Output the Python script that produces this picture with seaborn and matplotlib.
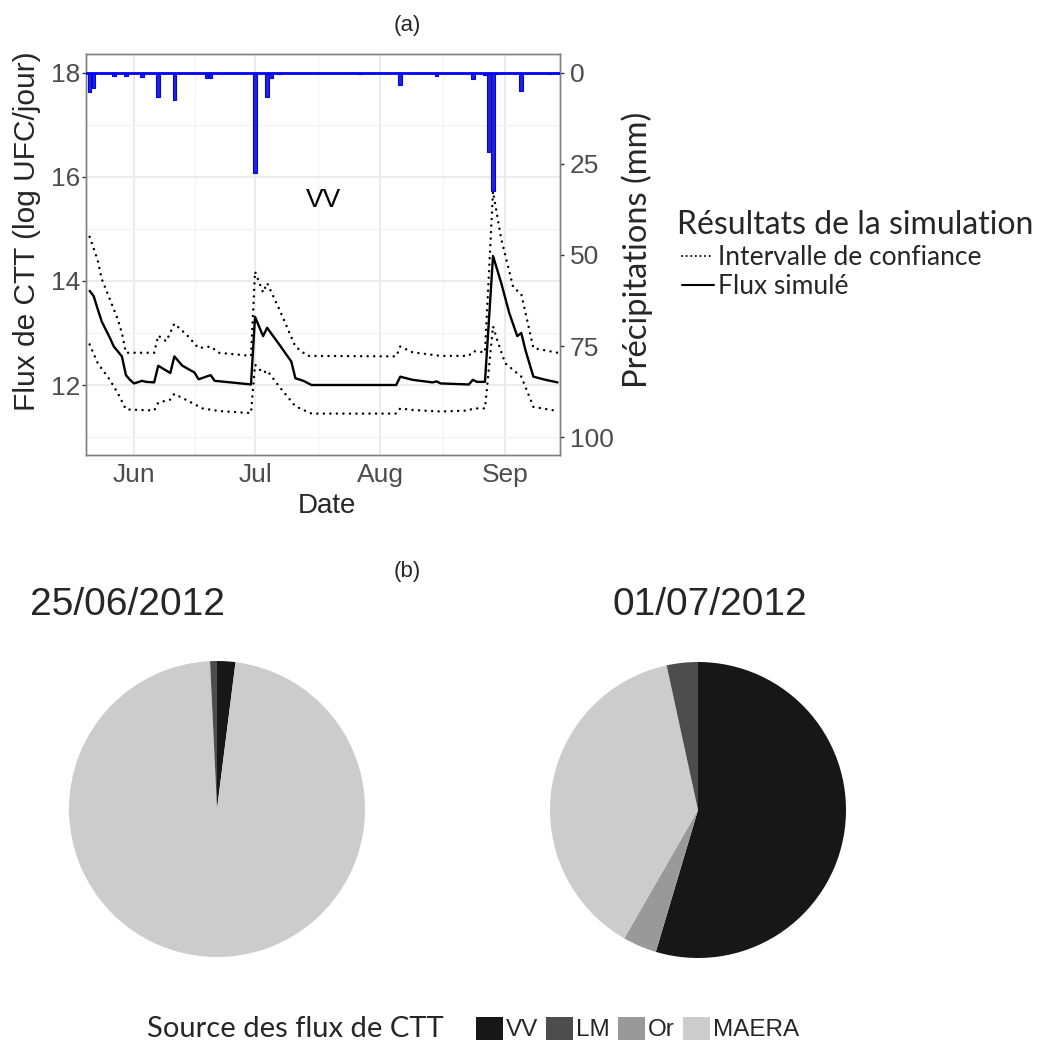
import numpy as np
import pandas as pd
import matplotlib
matplotlib.use("Agg")
import matplotlib.pyplot as plt
import matplotlib.dates as mdates
from matplotlib.lines import Line2D
from matplotlib.patches import Patch
from matplotlib.ticker import FixedLocator
import seaborn as sns

# ---------------- data ----------------
flux_dates = ["2012-05-21", "2012-05-22", "2012-05-23", "2012-05-24", "2012-05-26", "2012-05-27",
              "2012-05-29", "2012-05-30", "2012-05-31", "2012-06-01", "2012-06-03", "2012-06-04",
              "2012-06-06", "2012-06-07", "2012-06-10", "2012-06-11", "2012-06-13", "2012-06-16",
              "2012-06-17", "2012-06-20", "2012-06-21", "2012-06-25", "2012-06-30", "2012-07-01",
              "2012-07-03", "2012-07-04", "2012-07-07", "2012-07-10", "2012-07-11", "2012-07-13",
              "2012-07-15", "2012-08-05", "2012-08-06", "2012-08-09", "2012-08-14", "2012-08-15",
              "2012-08-16", "2012-08-23", "2012-08-24", "2012-08-25", "2012-08-27", "2012-08-29",
              "2012-08-31", "2012-09-02", "2012-09-04", "2012-09-05", "2012-09-06", "2012-09-08",
              "2012-09-11", "2012-09-14"]
flux_vals = [13.81, 13.71, 13.46, 13.22, 12.91, 12.74,
             12.55, 12.19, 12.10, 12.03, 12.08, 12.06,
             12.05, 12.37, 12.23, 12.55, 12.37, 12.24,
             12.11, 12.19, 12.08, 12.05, 12.01, 13.31,
             12.94, 13.10, 12.78, 12.45, 12.13, 12.08,
             12.00, 12.00, 12.16, 12.10, 12.05, 12.07,
             12.03, 12.01, 12.10, 12.06, 12.06, 14.48,
             13.97, 13.39, 12.94, 13.00, 12.68, 12.16,
             12.10, 12.05]

upper_dates = ["2012-05-21", "2012-05-23", "2012-05-24", "2012-05-26", "2012-05-28", "2012-05-29",
               "2012-05-30", "2012-06-06", "2012-06-07", "2012-06-09", "2012-06-11", "2012-06-14",
               "2012-06-17", "2012-06-20", "2012-06-22", "2012-06-30", "2012-07-01", "2012-07-03",
               "2012-07-04", "2012-07-07", "2012-07-11", "2012-07-14", "2012-08-05", "2012-08-06",
               "2012-08-09", "2012-08-16", "2012-08-23", "2012-08-24", "2012-08-27", "2012-08-29",
               "2012-08-31", "2012-09-03", "2012-09-05", "2012-09-08", "2012-09-14"]
upper_vals = [14.85, 14.40, 14.04, 13.65, 13.26, 13.00,
              12.62, 12.62, 12.95, 12.84, 13.18, 12.97,
              12.71, 12.74, 12.62, 12.56, 14.18, 13.78,
              13.96, 13.46, 12.74, 12.56, 12.55, 12.74,
              12.63, 12.56, 12.56, 12.65, 12.63, 15.72,
              14.82, 13.88, 13.75, 12.71, 12.62]

lower_dates = ["2012-05-21", "2012-05-23", "2012-05-26", "2012-05-28", "2012-05-30", "2012-06-06",
               "2012-06-07", "2012-06-10", "2012-06-11", "2012-06-14", "2012-06-18", "2012-06-22",
               "2012-06-30", "2012-07-01", "2012-07-03", "2012-07-04", "2012-07-07", "2012-07-11",
               "2012-07-15", "2012-08-05", "2012-08-06", "2012-08-09", "2012-08-16", "2012-08-23",
               "2012-08-24", "2012-08-27", "2012-08-29", "2012-08-30", "2012-09-01", "2012-09-05",
               "2012-09-06", "2012-09-08", "2012-09-14"]
lower_vals = [12.78, 12.42, 12.10, 11.84, 11.53, 11.51,
              11.66, 11.72, 11.83, 11.71, 11.55, 11.50,
              11.46, 12.39, 12.23, 12.28, 11.97, 11.59,
              11.45, 11.45, 11.55, 11.52, 11.49, 11.51,
              11.55, 11.55, 13.13, 12.87, 12.42, 12.16,
              11.97, 11.58, 11.50]

rain_dates = ["2012-05-21", "2012-05-22", "2012-05-27", "2012-05-30", "2012-06-03", "2012-06-07",
              "2012-06-11", "2012-06-19", "2012-06-20", "2012-07-01", "2012-07-04", "2012-07-05",
              "2012-07-07", "2012-07-27", "2012-08-06", "2012-08-15", "2012-08-24", "2012-08-27",
              "2012-08-28", "2012-08-29", "2012-08-30", "2012-09-05", "2012-09-12"]
rain_mm = [5.2, 4.0, 0.8, 0.8, 1.2, 6.7,
           7.5, 1.3, 1.3, 27.4, 6.5, 1.4,
           0.3, 0.3, 3.3, 0.7, 1.7, 0.6,
           21.7, 32.3, 0.3, 4.9, 0.3]

y_ticks = [12, 14, 16, 18]
rain_ticks = [0, 25, 50, 75, 100]

sources = ["VV", "LM", "Or", "MAERA"]
source_colors = {"VV": "#171717", "LM": "#4D4D4D", "Or": "#999999", "MAERA": "#CCCCCC"}
pie_order = ["VV", "Or", "MAERA", "LM"]          # clockwise from 12 o'clock
pie1_title = "25/06/2012"
pie1_share = {"VV": 2.0, "LM": 0.75, "Or": 0.0, "MAERA": 97.25}
pie2_title = "01/07/2012"
pie2_share = {"VV": 54.6, "LM": 3.4, "Or": 3.7, "MAERA": 38.3}

# ---------------- style ----------------
sns.set_theme(style="white")
plt.rcParams['font.family'] = ['Liberation Sans', 'DejaVu Sans']
CAL = ['Lato', 'DejaVu Sans']
NARROW = ['Liberation Sans Narrow', 'Liberation Sans', 'DejaVu Sans']
DOTS = (0, (0.01, 2.6))

W, H = 1037, 1048
fig = plt.figure(figsize=(W / 100, H / 100), dpi=100)


def box(l, t, r, b):
    return [l / W, 1 - b / H, (r - l) / W, (b - t) / H]


# ---------------- panel (a) ----------------
ax = fig.add_axes(box(86, 54, 560, 455))
flux_df = pd.DataFrame({"date": pd.to_datetime(flux_dates), "val": flux_vals})
up_df = pd.DataFrame({"date": pd.to_datetime(upper_dates), "val": upper_vals})
lo_df = pd.DataFrame({"date": pd.to_datetime(lower_dates), "val": lower_vals})

for df in (up_df, lo_df):
    sns.lineplot(data=df, x="date", y="val", ax=ax, color="black", lw=1.8,
                 linestyle=DOTS, dash_capstyle="round")
sns.lineplot(data=flux_df, x="date", y="val", ax=ax, color="black", lw=1.7)

x0 = pd.Timestamp("2012-06-01")
ax.set_xlim(x0 - pd.Timedelta(days=11.9), x0 + pd.Timedelta(days=105.6))
ax.set_ylim(10.654, 18.365)
ax.set_yticks(y_ticks)
ax.yaxis.set_minor_locator(FixedLocator([11, 13, 15, 17]))
ax.xaxis.set_major_locator(mdates.MonthLocator())
ax.xaxis.set_major_formatter(mdates.DateFormatter("%b"))
minor_x = [pd.Timestamp("2012-06-16"), pd.Timestamp("2012-07-16") + pd.Timedelta(hours=12),
           pd.Timestamp("2012-08-16") + pd.Timedelta(hours=12)]
ax.xaxis.set_minor_locator(FixedLocator(mdates.date2num(minor_x)))
ax.grid(True, which="major", color="#EBEBEB", lw=1.5)
ax.grid(True, which="minor", color="#F2F2F2", lw=0.8)
ax.set_axisbelow(True)
ax.tick_params(axis="both", which="major", length=3, width=1, color="#333333",
               labelcolor="#4D4D4D", labelsize=19, pad=1)
ax.tick_params(axis="both", which="minor", length=0)
ax.tick_params(axis="x", pad=3)
ax.set_xlabel("")
ax.set_ylabel("")
for s in ax.spines.values():
    s.set_color("#7F7F7F")
    s.set_linewidth(1.0)

ax2 = ax.twinx()
ax2.bar(pd.to_datetime(rain_dates), rain_mm, width=0.9, color="#2424C8",
        edgecolor="#0000FF", lw=0.8, zorder=3)
ax2.axhline(0, color="#0000FF", lw=2, zorder=4)
ax2.set_ylim(104.94, -5.21)
ax2.set_yticks(rain_ticks)
ax2.tick_params(axis="y", length=3, width=1, color="#333333", labelcolor="#4D4D4D",
                labelsize=19, pad=4)
ax2.grid(False)
for s in ax2.spines.values():
    s.set_color("#7F7F7F")
    s.set_linewidth(1.0)

ax.text(pd.Timestamp("2012-07-18"), 15.56, "VV", fontsize=19, ha="center", va="center",
        color="black")

fig.text(27 / W, 1 - 231 / H, "Flux de CTT (log UFC/jour)", rotation=90, fontsize=21.5,
         ha="center", va="center")
fig.text(327 / W, 1 - 506 / H, "Date", fontsize=20, ha="center", va="center")
fig.text(637 / W, 1 - 250 / H, "Précipitations (mm)", rotation=90, fontsize=23.5,
         ha="center", va="center", family=CAL)
fig.text(407 / W, 1 - 25 / H, "(a)", fontsize=16, ha="center", va="center", family=NARROW)
fig.text(407 / W, 1 - 572 / H, "(b)", fontsize=16, ha="center", va="center", family=NARROW)

fig.text(677 / W, 1 - 225 / H, "Résultats de la simulation", fontsize=23, ha="left",
         va="center", family=CAL)
leg_handles = [Line2D([0], [0], color="black", lw=1.5, linestyle=(0, (0.01, 2.2)),
                      dash_capstyle="round"),
               Line2D([0], [0], color="black", lw=1.5)]
leg = fig.legend(leg_handles, ["Intervalle de confiance", "Flux simulé"],
                 loc="upper left", bbox_to_anchor=(682 / W, 1 - 245 / H), frameon=False,
                 handlelength=1.2, handletextpad=0.15, labelspacing=0.15,
                 borderaxespad=0, borderpad=0, prop={"family": CAL, "size": 19})

# ---------------- panel (b) ----------------
def draw_pie(cx, cy, r, shares, title, tx):
    pax = fig.add_axes(box(cx - r, cy - r, cx + r, cy + r))
    vals = [shares[k] for k in pie_order]
    cols = [source_colors[k] for k in pie_order]
    pax.pie(vals, colors=cols, startangle=90, counterclock=False, radius=1,
            wedgeprops=dict(linewidth=0))
    pax.set_xlim(-1, 1)
    pax.set_ylim(-1, 1)
    pax.axis("off")
    fig.text(tx / W, 1 - 605 / H, title, fontsize=28, ha="left", va="center")


draw_pie(217, 809, 148, pie1_share, pie1_title, 30)
draw_pie(698, 810, 148, pie2_share, pie2_title, 613)

fig.text(147 / W, 1 - 1029 / H, "Source des flux de CTT", fontsize=21, ha="left",
         va="center", family=CAL)
src_handles = [Patch(facecolor=source_colors[k], edgecolor="none") for k in sources]
fig.legend(src_handles, sources, loc="center left", ncol=4,
           bbox_to_anchor=(476 / W, 1 - 1029 / H), frameon=False,
           handlelength=1.1, handleheight=1.1, handletextpad=0.12, columnspacing=0.35,
           borderaxespad=0, borderpad=0, prop={"family": NARROW, "size": 17.5})

fig.savefig("out.png", dpi=100)
